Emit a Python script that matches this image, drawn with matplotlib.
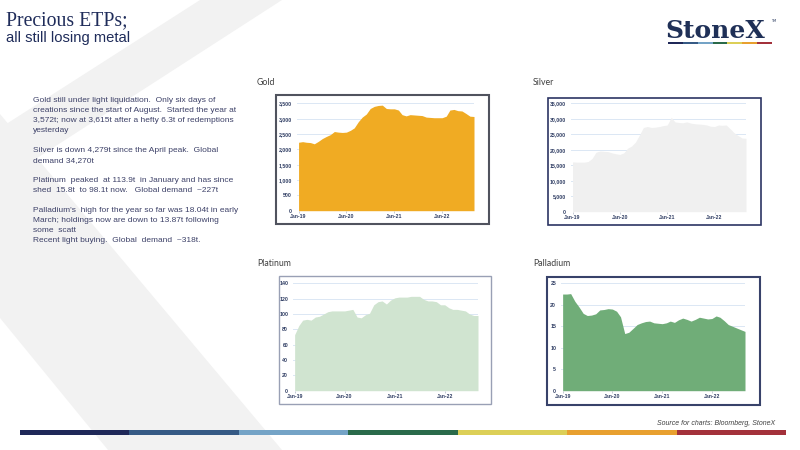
import numpy as np
import pandas as pd
import matplotlib
matplotlib.use("Agg")
import matplotlib.pyplot as plt
import matplotlib.dates as mdates
import matplotlib.ticker as mticker
from matplotlib.patches import Rectangle, Polygon

# ETP holdings (tonnes), month starts Jan-19 .. Sep-22
months = pd.date_range("2019-01-01", periods=45, freq="MS")

gold_t = [2230, 2250, 2230, 2220, 2180, 2260, 2350, 2420, 2480, 2580, 2560, 2550,
          2560, 2620, 2700, 2900, 3050, 3150, 3330, 3400, 3430, 3440, 3330, 3320,
          3320, 3280, 3130, 3090, 3130, 3120, 3110, 3100, 3050, 3040, 3030, 3030,
          3030, 3080, 3280, 3300, 3260, 3250, 3170, 3080, 3070]

silver_t = [16100, 16000, 16000, 16000, 16200, 17200, 19200, 19600, 19500, 19400, 19000, 18700,
            18500, 19000, 20500, 21200, 22500, 24800, 27200, 27500, 27200, 27300, 27500, 27800,
            28000, 30500, 29000, 28800, 28700, 29000, 28600, 28400, 28300, 28200, 28000, 27600,
            27500, 28000, 27900, 28000, 26800, 25500, 24600, 23800, 23700]

platinum_t = [73, 85, 92, 93, 92, 96, 97, 100, 103, 104, 104, 104,
              104, 105, 106, 96, 95, 99, 101, 112, 116, 117, 113, 118,
              121, 122, 122, 122, 123, 123, 123, 119, 117, 117, 116, 112,
              112, 108, 106, 106, 105, 104, 100, 98, 98]

palladium_t = [22.5, 22.5, 22.6, 20.8, 19.5, 18.0, 17.5, 17.6, 17.9, 18.8, 18.9, 19.1,
               19.0, 18.5, 17.2, 13.3, 13.6, 14.5, 15.4, 15.8, 16.1, 16.2, 15.8, 15.7,
               15.6, 15.8, 16.2, 15.9, 16.5, 16.9, 16.6, 16.2, 16.6, 17.1, 16.9, 16.7,
               16.8, 17.4, 17.1, 16.3, 15.4, 15.0, 14.6, 14.2, 13.8]

year_ticks = ["2019-01-01", "2020-01-01", "2021-01-01", "2022-01-01"]

notes = [
    "Gold still under light liquidation.  Only six days of",
    "creations since the start of August.  Started the year at",
    "3,572t; now at 3,615t after a hefty 6.3t of redemptions",
    "yesterday",
    "",
    "Silver is down 4,279t since the April peak.  Global",
    "demand 34,270t",
    "",
    "Platinum  peaked  at 113.9t  in January and has since",
    "shed  15.8t  to 98.1t now.   Global demand  ~227t",
    "",
    "Palladium's  high for the year so far was 18.04t in early",
    "March; holdings now are down to 13.87t following",
    "some  scatt",
    "Recent light buying.  Global  demand  ~318t.",
]

band_colors = ["#1f2858", "#365a85", "#74a3c6", "#2a6a4a", "#dccf57", "#e8a02f", "#a3313b"]
navy = "#1f2c5a"
text_col = "#3d4168"
tick_col = "#2f3d63"

fig = plt.figure(figsize=(8, 4.5), dpi=100)

# slide background in pixel coords
bg = fig.add_axes([0, 0, 1, 1])
bg.set_zorder(-1)
bg.set_xlim(0, 800)
bg.set_ylim(450, 0)
bg.axis("off")
bg.add_patch(Polygon([(200, 0), (282, 0), (0, 182), (0, 128)], color="#f2f2f2", lw=0))
bg.add_patch(Polygon([(0, 114), (282, 450), (108, 450), (0, 318)], color="#f2f2f2", lw=0))

bg.text(6, 25, "Precious ETPs;", family="Liberation Serif", fontsize=14.2, color=navy, va="baseline")
bg.text(6, 42, "all still losing metal", family="Liberation Sans", fontsize=10.6, color=navy, va="baseline")

# logo
bg.text(665, 38.3, "StoneX", family="DejaVu Serif", weight="bold", fontsize=18, color="#1f3057", va="baseline")
bg.text(771, 22, "TM", fontsize=2.5, color="#1f3057")
seg = 104 / 7
for i, c in enumerate(band_colors):
    bg.add_patch(Rectangle((668 + i * seg, 41.7), seg, 2.2, color=c, lw=0))

# bottom colour band
seg = 766 / 7
for i, c in enumerate(band_colors):
    bg.add_patch(Rectangle((20 + i * seg, 429.5), seg, 5, color=c, lw=0))
bg.text(775, 425, "Source for charts: Bloomberg, StoneX", family="Liberation Sans", style="italic",
        fontsize=5, color="#404040", ha="right", va="baseline")

for i, line in enumerate(notes):
    bg.text(33, 102 + i * 10, line, family="Liberation Sans", fontsize=6, color=text_col, va="baseline")

# chart frames and titles
frames = [
    ("Gold", (257, 85), (276, 95, 213, 129), "#50535e", 1.5),
    ("Silver", (533, 85), (548, 97.7, 213, 127.3), "#2c3563", 1.2),
    ("Platinum", (257, 266), (279, 275.7, 212, 128.3), "#99a0b5", 1.0),
    ("Palladium", (533, 266), (547, 277, 213, 128), "#38426a", 1.5),
]
for name, (tx, ty), (fx, fy, fw, fh), ec, lw in frames:
    bg.text(tx, ty, name, family="Lato", fontsize=6.3, color="#404040", va="baseline")
    bg.add_patch(Rectangle((fx, fy), fw, fh, facecolor="white", edgecolor=ec, lw=lw))


def draw_chart(px, values, color, ymax, ystep):
    x0, y0, x1, y1 = px
    ax = fig.add_axes([x0 / 800, 1 - y1 / 450, (x1 - x0) / 800, (y1 - y0) / 450])
    ax.patch.set_alpha(0)
    ax.fill_between(months, values, 0, color=color, lw=0)
    ax.set_xlim(pd.Timestamp("2018-12-20"), months[-1])
    ax.set_ylim(0, ymax)
    ax.set_yticks(np.arange(0, ymax + ystep / 2, ystep))
    ax.yaxis.set_major_formatter(mticker.FuncFormatter(lambda v, _: f"{v:,.0f}"))
    ax.set_xticks(pd.to_datetime(year_ticks))
    ax.xaxis.set_major_formatter(mdates.DateFormatter("%b-%y"))
    ax.grid(axis="y", color="#dbe7f4", lw=0.7)
    ax.set_axisbelow(True)
    for s in ax.spines.values():
        s.set_visible(False)
    ax.tick_params(axis="y", length=0, pad=3.5)
    ax.tick_params(axis="x", length=1.5, width=0.5, color="#b0b8c8", pad=1.2)
    for lab in ax.get_xticklabels() + ax.get_yticklabels():
        lab.set_fontsize(3.7)
        lab.set_fontweight("bold")
        lab.set_family("Liberation Sans")
        lab.set_color(tick_col)
    return ax


draw_chart((297, 103.3, 474, 210.7), gold_t, "#f0ab23", 3500, 500)
draw_chart((571, 103.3, 746, 211.7), silver_t, "#f0f0f0", 35000, 5000)
draw_chart((293, 283.3, 478, 390.7), platinum_t, "#d0e4d0", 140, 20)
draw_chart((561, 283.3, 745, 390.7), palladium_t, "#70ad78", 25, 5)

fig.savefig("out.png", dpi=100)
